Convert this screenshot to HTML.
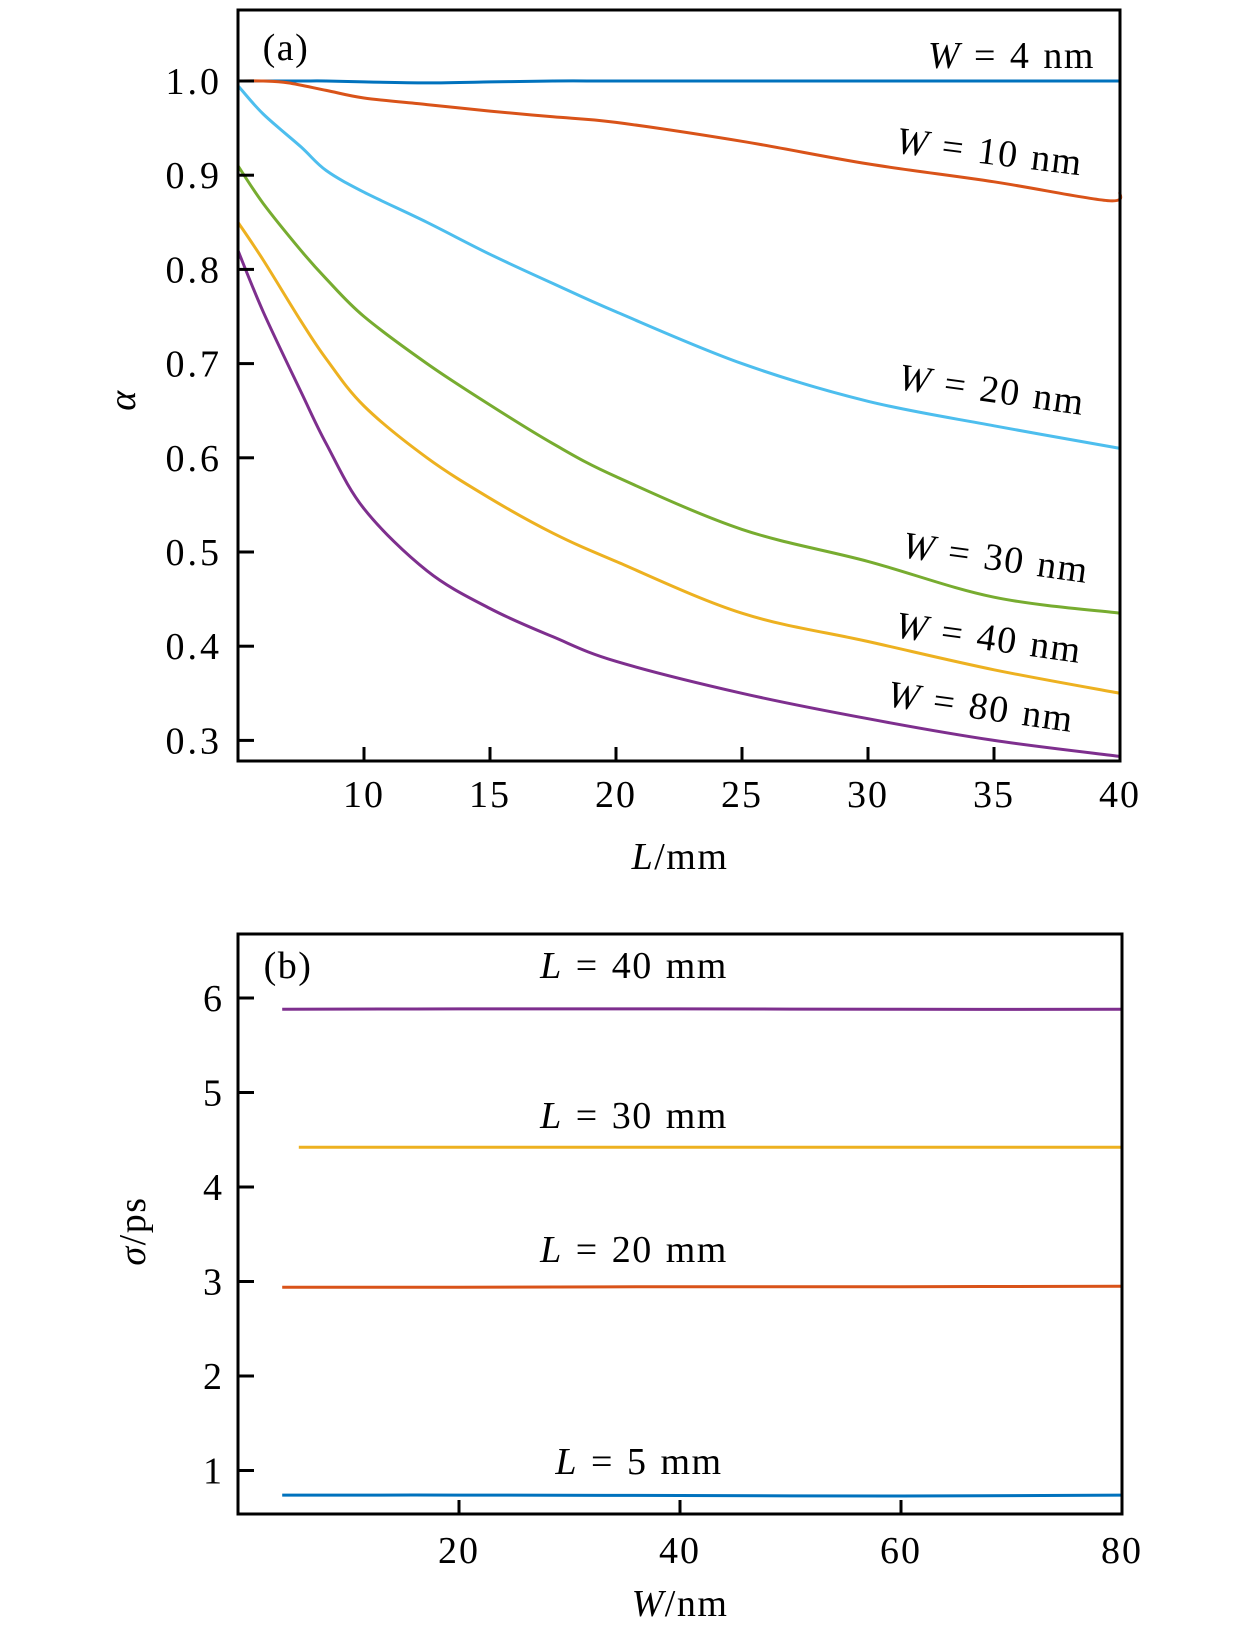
<!DOCTYPE html>
<html><head><meta charset="utf-8"><style>
body{margin:0;background:#fff}
svg text{font-family:"Liberation Serif",serif;fill:#000}
</style></head><body>
<svg id="chart" width="1260" height="1635" viewBox="0 0 1260 1635" xmlns="http://www.w3.org/2000/svg"></svg>
<script>
// Panel (a) data
const aL = [5, 6, 7.5, 8.5, 10, 12.5, 15, 17.5, 20, 25, 30, 35, 40];
const aW4 = [1.0, 1.0, 1.0, 1.0, 0.999, 0.998, 0.999, 1.0, 1.0, 1.0, 1.0, 1.0, 1.0];
const aL10 = [5, 6, 7, 8.5, 10, 12.5, 15, 17.5, 20, 25, 30, 35, 39.5, 40];
const aW10 = [1.0, 1.0, 0.998, 0.99, 0.982, 0.975, 0.968, 0.962, 0.956, 0.936, 0.912, 0.893, 0.873, 0.882];
const aW20 = [0.995, 0.965, 0.93, 0.905, 0.882, 0.85, 0.816, 0.785, 0.755, 0.70, 0.66, 0.634, 0.61];
const aW30 = [0.91, 0.87, 0.82, 0.79, 0.75, 0.70, 0.656, 0.615, 0.58, 0.524, 0.49, 0.452, 0.435];
const aW40 = [0.85, 0.81, 0.745, 0.705, 0.655, 0.60, 0.557, 0.52, 0.49, 0.435, 0.405, 0.375, 0.35];
const aW80 = [0.82, 0.755, 0.67, 0.615, 0.546, 0.48, 0.44, 0.41, 0.384, 0.35, 0.323, 0.30, 0.283];
const aXTicks = [10, 15, 20, 25, 30, 35, 40];
const aYTicks = [0.3, 0.4, 0.5, 0.6, 0.7, 0.8, 0.9, 1.0];
// Panel (b) data
const bW = [4, 20, 40, 60, 80];
const bL5 = [0.74, 0.74, 0.735, 0.73, 0.74];
const bL20 = [2.94, 2.94, 2.945, 2.945, 2.95];
const bL30W = [5.5, 20, 40, 60, 80];
const bL30 = [4.42, 4.42, 4.42, 4.42, 4.42];
const bL40 = [5.88, 5.885, 5.885, 5.88, 5.88];
const bXTicks = [20, 40, 60, 80];
const bYTicks = [1, 2, 3, 4, 5, 6];

const NS = "http://www.w3.org/2000/svg";
const svg = document.getElementById('chart');
function mk(tag, attrs, parent) {
  const e = document.createElementNS(NS, tag);
  for (const k in attrs) e.setAttribute(k, attrs[k]);
  (parent || svg).appendChild(e);
  return e;
}
const ax = v => 238 + (v - 5) / 35 * (1120 - 238);
const ay = v => 81 + (1.0 - v) / 0.1 * 94.2;
const bx = v => 238 + v / 80 * (1122 - 238);
const by = v => 998 + (6 - v) * 94.5;

function series(xs, ys, fx, fy, color, name) {
  const P = xs.map((x, i) => [fx(x), fy(ys[i])]);
  let d = 'M' + P[0][0].toFixed(1) + ',' + P[0][1].toFixed(1);
  for (let i = 0; i < P.length - 1; i++) {
    const p0 = P[i - 1] || P[i], p1 = P[i], p2 = P[i + 1], p3 = P[i + 2] || P[i + 1];
    const c1 = [p1[0] + (p2[0] - p0[0]) / 6, p1[1] + (p2[1] - p0[1]) / 6];
    const c2 = [p2[0] - (p3[0] - p1[0]) / 6, p2[1] - (p3[1] - p1[1]) / 6];
    d += ' C' + c1.map(n => n.toFixed(1)).join(',') + ' ' + c2.map(n => n.toFixed(1)).join(',') + ' ' + p2.map(n => n.toFixed(1)).join(',');
  }
  const p = mk('path', {d: d, fill: 'none', stroke: color, 'stroke-width': 3, 'stroke-linejoin': 'round'});
  
  
}
function label(txt, x, y, rot, name, anchor) {
  const t = mk('text', {x: x, y: y, 'font-size': 38, 'letter-spacing': 1.5, 'word-spacing': 2, 'text-anchor': anchor || 'middle', transform: 'rotate(' + rot + ' ' + x + ' ' + y + ')'});
  t.innerHTML = txt;
  
  
}

// Panel (a)
series(aL, aW4, ax, ay, '#0072BD', 'line-w4');
series(aL10, aW10, ax, ay, '#D95319', 'line-w10');
series(aL, aW20, ax, ay, '#4DBEEE', 'line-w20');
series(aL, aW30, ax, ay, '#77AC30', 'line-w30');
series(aL, aW40, ax, ay, '#EDB120', 'line-w40');
series(aL, aW80, ax, ay, '#7E2F8E', 'line-w80');
const fa = mk('rect', {x: 238, y: 10, width: 882, height: 751, fill: 'none', stroke: '#000', 'stroke-width': 3});


aXTicks.forEach(v => {
  mk('line', {x1: ax(v), x2: ax(v), y1: 761, y2: 747, stroke: '#000', 'stroke-width': 3});
  const t = mk('text', {x: ax(v), y: 807, 'font-size': 38, 'letter-spacing': 2, 'text-anchor': 'middle'});
  t.textContent = v;
  
  
});
aYTicks.forEach(v => {
  mk('line', {x1: 238, x2: 254, y1: ay(v), y2: ay(v), stroke: '#000', 'stroke-width': 3});
  const t = mk('text', {x: 222, y: ay(v) + 13, 'font-size': 38, 'letter-spacing': 3, 'text-anchor': 'end'});
  t.textContent = v.toFixed(1);
  
  
});
label('(a)', 286, 60, 0, 'panel-label-a');
label('<tspan font-style="italic">W</tspan> = 4 nm', 1095, 68, 0, 'label-w4', 'end');
label('<tspan font-style="italic">W</tspan> = 10 nm', 988, 164, 7, 'label-w10');
label('<tspan font-style="italic">W</tspan> = 20 nm', 990, 402, 8, 'label-w20');
label('<tspan font-style="italic">W</tspan> = 30 nm', 994, 570, 8, 'label-w30');
label('<tspan font-style="italic">W</tspan> = 40 nm', 987, 650, 8, 'label-w40');
label('<tspan font-style="italic">W</tspan> = 80 nm', 979, 719, 8, 'label-w80');
label('<tspan font-style="italic">L</tspan>/mm', 680, 869, 0, 'x-axis-title-a');
label('<tspan font-style="italic">α</tspan>', 135, 400, -90, 'y-axis-title-a');

// Panel (b)
series(bW, bL40, bx, by, '#7E2F8E', 'line-l40');
series(bL30W, bL30, bx, by, '#EDB120', 'line-l30');
series(bW, bL20, bx, by, '#D95319', 'line-l20');
series(bW, bL5, bx, by, '#0072BD', 'line-l5');
const fb = mk('rect', {x: 238, y: 934, width: 884, height: 580, fill: 'none', stroke: '#000', 'stroke-width': 3});


bXTicks.forEach(v => {
  mk('line', {x1: bx(v), x2: bx(v), y1: 1514, y2: 1500, stroke: '#000', 'stroke-width': 3});
  const t = mk('text', {x: bx(v), y: 1563, 'font-size': 38, 'letter-spacing': 2, 'text-anchor': 'middle'});
  t.textContent = v;
  
  
});
bYTicks.forEach(v => {
  mk('line', {x1: 238, x2: 254, y1: by(v), y2: by(v), stroke: '#000', 'stroke-width': 3});
  const t = mk('text', {x: 222, y: by(v) + 13, 'font-size': 38, 'text-anchor': 'end'});
  t.textContent = v;
  
  
});
label('(b)', 288, 978, 0, 'panel-label-b');
label('<tspan font-style="italic">L</tspan> = 40 mm', 634, 978, 0, 'label-l40');
label('<tspan font-style="italic">L</tspan> = 30 mm', 634, 1128, 0, 'label-l30');
label('<tspan font-style="italic">L</tspan> = 20 mm', 634, 1262, 0, 'label-l20');
label('<tspan font-style="italic">L</tspan> = 5 mm', 639, 1474, 0, 'label-l5');
label('<tspan font-style="italic">W</tspan>/nm', 680, 1616, 0, 'x-axis-title-b');
label('<tspan font-style="italic">σ</tspan>/ps', 145, 1231, -90, 'y-axis-title-b');
</script>
</body></html>
